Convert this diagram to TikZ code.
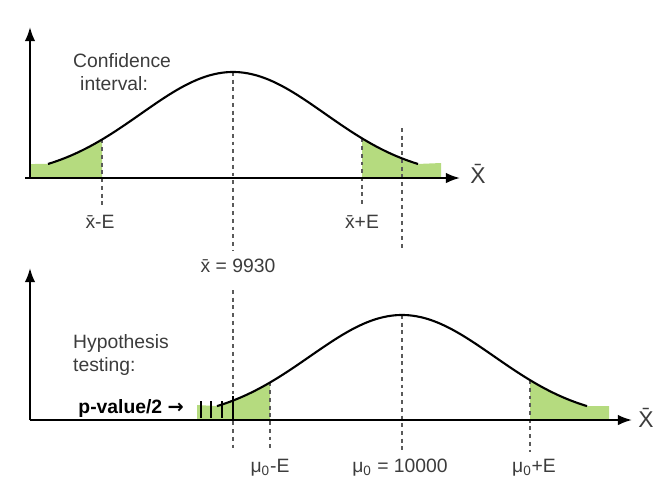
\documentclass[tikz,border=0pt]{standalone}
\usepackage{fontspec}
\setmainfont{Liberation Sans}
\newfontfamily\arrowfont{DejaVu Sans}
\usepackage{tikz}
\usetikzlibrary{arrows.meta}
\definecolor{tailgreen}{RGB}{181,219,127}
\definecolor{labelgray}{RGB}{60,60,60}
\definecolor{guidegray}{RGB}{90,90,90}

\begin{document}
\begin{tikzpicture}[
    x=0.02cm, y=-0.02cm,
    declare function={gtop(\x)=178-106*exp(-0.5*((\x-233)/92)^2);
                      gbot(\x)=420-105*exp(-0.5*((\x-402)/92)^2);},
    axis/.style={line width=1.2pt, -{Latex[length=8pt,width=6pt]}},
    curve/.style={line width=1.2pt, black},
    tail/.style={fill=tailgreen},
    guide/.style={guidegray, line width=0.6pt, dash pattern=on 2.2pt off 2.2pt},
    lbl/.style={font=\fontsize{11}{13}\selectfont, text=labelgray},
    bar/.style={line width=1.4pt, black},
  ]
  \useasboundingbox (0,0) rectangle (653,485);

  % Top: confidence interval
  \fill[tail] (30,178) -- (30,164) -- plot[domain=48:102, samples=30] (\x,{gtop(\x)})
    -- (102,178) -- cycle;
  \fill[tail] (362,178) -- plot[domain=362:418, samples=30] (\x,{gtop(\x)})
    -- (441,163) -- (441,178) -- cycle;

  \draw[guide] (102,{gtop(102)}) -- (102,205);
  \draw[guide] (362,{gtop(362)}) -- (362,205);
  \draw[guide] (233,72) -- (233,250);
  \draw[guide] (402,128) -- (402,250);

  \draw[curve] plot[domain=48:418, samples=90] (\x,{gtop(\x)});
  \draw[axis] (30,178) -- (30,27);
  \draw[axis] (25,178) -- (460,178);

  \node[lbl, align=left, anchor=north west] (confTitle) at (67,47)
    {Confidence\\\hspace{4pt}interval:};
  \node[lbl, font=\fontsize{13}{15}\selectfont] (xbarTop) at (478,174) {\={X}};
  \node[lbl] (lowCI) at (100,222) {\={x}-E};
  \node[lbl] (highCI) at (362,222) {\={x}+E};
  \node[lbl] (xbarVal) at (238,266) {\={x} = 9930};

  % Bottom: hypothesis testing
  \fill[tail] (197,420) -- (197,405) -- plot[domain=217:270, samples=30] (\x,{gbot(\x)})
    -- (270,420) -- cycle;
  \fill[tail] (530,420) -- plot[domain=530:587, samples=30] (\x,{gbot(\x)})
    -- (609,406) -- (609,420) -- cycle;

  \draw[guide] (233,290) -- (233,452);
  \draw[guide] (270,{gbot(270)}) -- (270,452);
  \draw[guide] (402,315) -- (402,452);
  \draw[guide] (530,{gbot(530)}) -- (530,452);

  \draw[curve] plot[domain=217:587, samples=90] (\x,{gbot(\x)});
  \draw[axis] (30,420) -- (30,268);
  \draw[axis] (30,420) -- (632,420);

  % p-value bars
  \foreach \bx in {201,211,222} {
    \draw[bar] (\bx,401) -- (\bx,418);
  }
  \draw[bar] (233,396) -- (233,420);

  \node[lbl, align=left, anchor=north west] (hypTitle) at (67,328)
    {Hypothesis\\testing:};
  \node[font=\fontsize{11}{13}\selectfont\bfseries, anchor=east] (pval) at (190,408)
    {p-value/2 {\arrowfont\bfseries →}};
  \node[lbl, font=\fontsize{13}{15}\selectfont] (xbarBot) at (646,418) {\={X}};
  \node[lbl] (lowH) at (270,468) {μ\textsubscript{0}-E};
  \node[lbl] (muVal) at (400,468) {μ\textsubscript{0} = 10000};
  \node[lbl] (highH) at (534,468) {μ\textsubscript{0}+E};
\end{tikzpicture}
\end{document}
